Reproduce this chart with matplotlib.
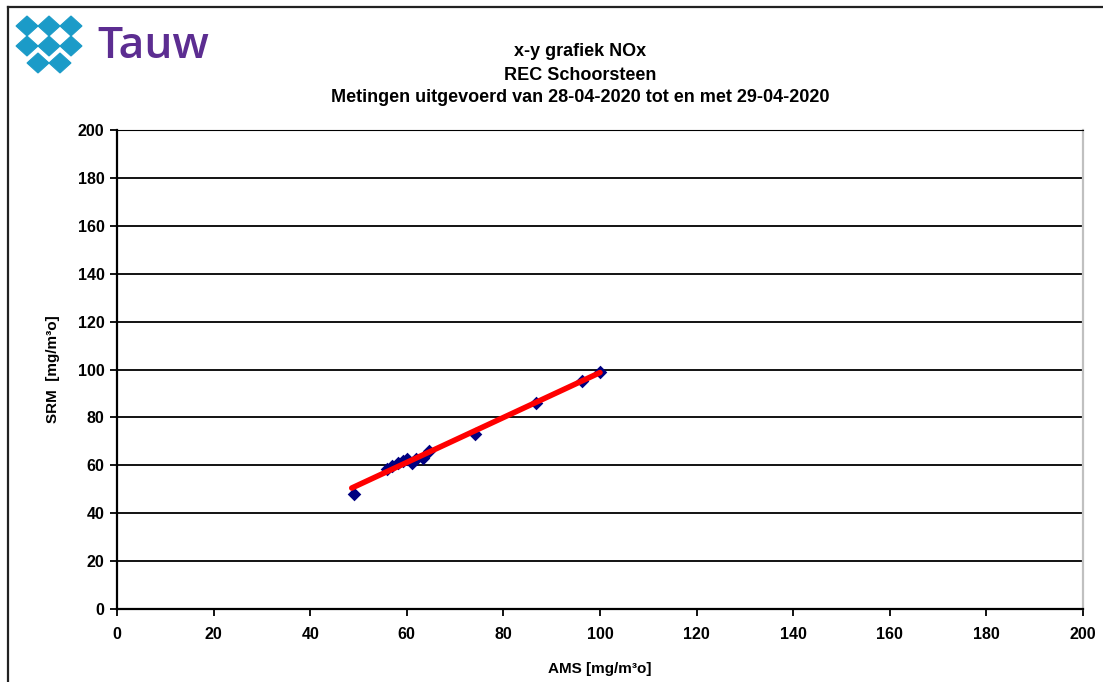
import numpy as np
import matplotlib
matplotlib.use("Agg")
import matplotlib.pyplot as plt
from matplotlib.patches import Polygon
from matplotlib.lines import Line2D

# ---- data ----
ams = [49.1, 55.9, 56.9, 58.2, 59.2, 60.0, 61.1, 61.9, 63.4, 64.6, 74.1, 86.7, 96.3, 100.0]
srm = [48.0, 58.5, 59.7, 61.0, 61.8, 62.6, 61.0, 62.6, 63.0, 66.0, 73.1, 86.0, 95.2, 99.0]
x_ticks = [0, 20, 40, 60, 80, 100, 120, 140, 160, 180, 200]
y_ticks = [0, 20, 40, 60, 80, 100, 120, 140, 160, 180, 200]
title_lines = ["x-y grafiek NOx", "REC Schoorsteen",
               "Metingen uitgevoerd van 28-04-2020 tot en met 29-04-2020"]

W, H = 1103, 682
plt.rcParams['font.family'] = ['Liberation Sans', 'DejaVu Sans']
fig = plt.figure(figsize=(W / 100, H / 100), dpi=100)
fig.patch.set_facecolor('white')

def fx(px):
    return px / W

def fy(py):
    return 1 - py / H

# outer frame (left and top)
fig.add_artist(Line2D([fx(8), fx(8)], [fy(7), 0], color='#222222', lw=1.6, transform=fig.transFigure))
fig.add_artist(Line2D([fx(8), 1.0], [fy(7), fy(7)], color='#222222', lw=1.6, transform=fig.transFigure))

# main axes
L, R, T, B = 117, 1083, 130, 609
ax = fig.add_axes([fx(L), fy(B), fx(R - L), (B - T) / H])
ax.set_xlim(0, 200)
ax.set_ylim(0, 200)
ax.set_xticks(x_ticks)
ax.set_yticks(y_ticks)
ax.set_xticklabels([str(v) for v in x_ticks], fontweight='bold', fontsize=11.5)
ax.set_yticklabels([str(v) for v in y_ticks], fontweight='bold', fontsize=11.5)
ax.tick_params(axis='both', direction='out', length=5, width=1.3, color='black', pad=4)
ax.tick_params(axis='x', pad=8)
for yv in y_ticks[1:-1]:
    ax.axhline(yv, color='black', lw=1.3, zorder=1)
ax.axhline(200, color='black', lw=1.3, zorder=1)
ax.spines['left'].set_color('black')
ax.spines['bottom'].set_color('black')
ax.spines['left'].set_linewidth(1.6)
ax.spines['bottom'].set_linewidth(1.6)
ax.spines['right'].set_color('#c0c0c0')
ax.spines['top'].set_color('black')
ax.spines['right'].set_linewidth(1.6)

# data points
ax.scatter(ams, srm, marker='D', s=48, color='#000080', zorder=3, linewidths=0)

# regression line
coef = np.polyfit(ams, srm, 1)
xr = np.array([min(ams) - 0.5, max(ams)])
ax.plot(xr, np.polyval(coef, xr), color='#ff0000', lw=4, zorder=4, solid_capstyle='round')

ax.set_xlabel("AMS [mg/m³o]", fontweight='bold', fontsize=11, labelpad=14)
ax.set_ylabel("SRM  [mg/m³o]", fontweight='bold', fontsize=11, labelpad=13)

# titles
for i, t in enumerate(title_lines):
    fig.text(fx(580), fy(52 + 23 * i), t, ha='center', va='center', fontweight='bold', fontsize=13)

# logo
lax = fig.add_axes([0, 0, 1, 1], zorder=5)
lax.set_xlim(0, W)
lax.set_ylim(H, 0)
lax.axis('off')
lax.patch.set_alpha(0)
blue = '#1b9bc8'
a, b = 11, 10
centers = [(27, 26), (49, 26), (71, 26), (27, 46), (49, 46), (71, 46), (38, 63), (60, 63)]
for cx, cy in centers:
    lax.add_patch(Polygon([(cx - a, cy), (cx, cy - b), (cx + a, cy), (cx, cy + b)],
                          closed=True, facecolor=blue, edgecolor=blue, lw=0.8))
lax.text(97, 47, "Tauw", color='#5c2d91', fontsize=32, fontweight='semibold',
         family=['Open Sans', 'DejaVu Sans'], ha='left', va='center')

fig.savefig("out.png", dpi=100, facecolor='white')
